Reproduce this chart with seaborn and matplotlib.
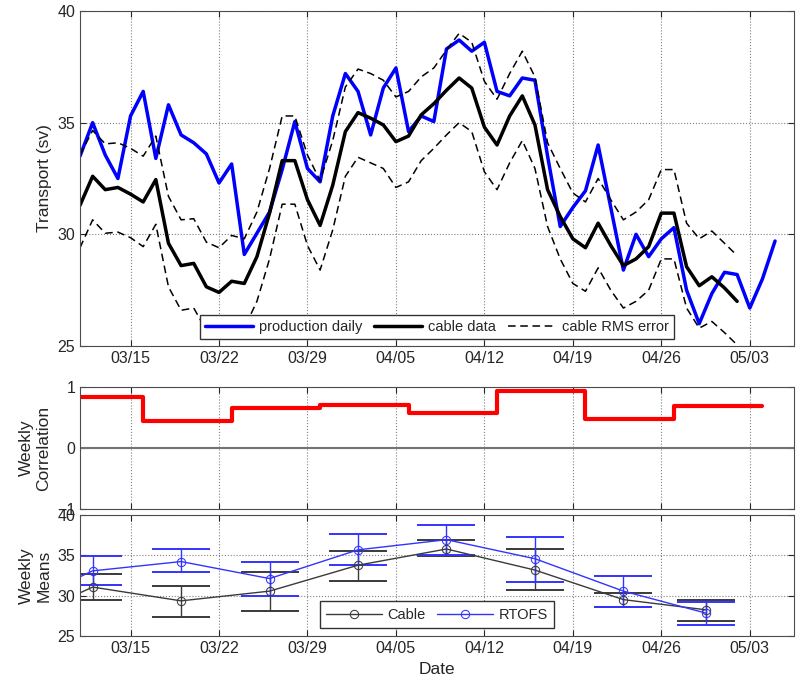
import numpy as np
import pandas as pd
import matplotlib
matplotlib.use("Agg")
import matplotlib.pyplot as plt
import matplotlib.dates as mdates
import seaborn as sns

# --- daily transport (Sv), one value per day from 03/11 ---
day0 = "2010-03-11"
production_daily = [33.5, 35.0, 33.55, 32.5, 35.3, 36.4, 33.4, 35.8, 34.45, 34.1,
                    33.6, 32.3, 33.15, 29.1, 30.05, 31.0, 32.9, 35.05, 32.95, 32.35,
                    35.3, 37.2, 36.4, 34.45, 36.55, 37.45, 34.6, 35.3, 35.05, 38.3,
                    38.7, 38.2, 38.6, 36.4, 36.2, 37.0, 36.9, 33.5, 30.35, 31.2,
                    31.95, 34.0, 31.2, 28.4, 30.0, 29.0, 29.8, 30.3, 27.5, 26.0,
                    27.35, 28.3, 28.2, 26.7, 28.0, 29.7]
cable_data = [31.3, 32.6, 32.0, 32.1, 31.8, 31.45, 32.45, 29.6, 28.6, 28.7,
              27.65, 27.4, 27.9, 27.8, 29.0, 30.95, 33.3, 33.3, 31.55, 30.4,
              32.2, 34.6, 35.45, 35.2, 34.9, 34.15, 34.4, 35.35, 35.85, 36.45,
              37.0, 36.55, 34.8, 34.0, 35.3, 36.2, 34.9, 32.0, 30.8, 29.8,
              29.4, 30.5, 29.5, 28.6, 28.9, 29.45, 30.95, 30.95, 28.55, 27.7,
              28.1, 27.6, 27.0]
rms_upper = [33.55, 34.65, 34.05, 34.1, 33.85, 33.5, 34.4, 31.7, 30.65, 30.7,
             29.65, 29.4, 29.95, 29.8, 31.0, 32.95, 35.3, 35.3, 33.55, 32.4,
             34.2, 36.6, 37.4, 37.2, 36.9, 36.15, 36.4, 37.05, 37.45, 38.25,
             39.0, 38.6, 36.85, 36.05, 37.2, 38.2, 37.05, 34.1, 32.95, 31.85,
             31.45, 32.5, 31.55, 30.65, 31.0, 31.55, 32.9, 32.9, 30.5, 29.8,
             30.15, 29.6, 29.05]
rms_lower = [29.4, 30.65, 30.05, 30.1, 29.85, 29.45, 30.45, 27.65, 26.6, 26.7,
             25.7, 25.4, 25.9, 25.8, 27.0, 28.9, 31.35, 31.35, 29.5, 28.4,
             30.2, 32.6, 33.45, 33.2, 32.95, 32.1, 32.35, 33.3, 33.85, 34.45,
             35.0, 34.6, 32.8, 32.0, 33.2, 34.2, 32.95, 30.35, 28.9, 27.8,
             27.45, 28.5, 27.5, 26.7, 27.0, 27.5, 28.9, 28.9, 26.7, 25.8,
             26.1, 25.6, 25.05]

# --- weekly correlation (step per week) ---
week_edges = ["2010-03-09", "2010-03-16", "2010-03-23", "2010-03-30", "2010-04-06",
              "2010-04-13", "2010-04-20", "2010-04-27", "2010-05-04"]
weekly_corr = [0.83, 0.44, 0.66, 0.71, 0.58, 0.94, 0.48, 0.69]

# --- weekly means with error bar ends ---
week_mid = ["2010-03-05", "2010-03-12", "2010-03-19", "2010-03-26", "2010-04-02",
            "2010-04-09", "2010-04-16", "2010-04-23", "2010-04-29 12:00"]
cable_mean = [26.1, 31.1, 29.4, 30.6, 33.8, 35.8, 33.2, 29.55, 28.3]
cable_lo = [24.3, 29.45, 27.4, 28.2, 31.9, 34.9, 30.8, 28.6, 26.95]
cable_hi = [27.9, 32.7, 31.25, 33.0, 35.6, 36.9, 35.8, 30.4, 29.55]
rtofs_mean = [28.0, 33.1, 34.25, 32.15, 35.7, 36.95, 34.6, 30.6, 27.9]
rtofs_lo = [26.2, 31.3, 32.9, 30.0, 33.8, 35.0, 31.75, 28.6, 26.45]
rtofs_hi = [29.8, 34.9, 35.8, 34.25, 37.6, 38.8, 37.3, 32.45, 29.3]

tick_dates = pd.date_range("2010-03-15", "2010-05-03", freq="7D")
xlim = (pd.Timestamp("2010-03-11"), pd.Timestamp("2010-05-06 12:00"))

sns.set_style("ticks", {"xtick.direction": "in", "ytick.direction": "in"})
plt.rcParams["font.family"] = ["Liberation Sans", "DejaVu Sans"]
plt.rcParams["axes.edgecolor"] = "0.3"

fig = plt.figure(figsize=(8, 6.83), dpi=100)
ax1 = fig.add_axes([0.1, 0.4934, 0.8925, 0.4905])
ax2 = fig.add_axes([0.1, 0.2548, 0.8925, 0.1786])
ax3 = fig.add_axes([0.1, 0.0681, 0.8925, 0.1779])

days_prod = pd.date_range(day0, periods=len(production_daily))
days_cable = pd.date_range(day0, periods=len(cable_data))

# --- 1. daily transport ---
sns.lineplot(x=days_prod, y=production_daily, ax=ax1, color="#0000ff", lw=2.5,
             label="production daily")
sns.lineplot(x=days_cable, y=cable_data, ax=ax1, color="black", lw=2.5,
             label="cable data")
sns.lineplot(x=days_cable, y=rms_upper, ax=ax1, color="black", lw=1.1,
             linestyle=(0, (5, 3)), label="cable RMS error")
sns.lineplot(x=days_cable, y=rms_lower, ax=ax1, color="black", lw=1.1,
             linestyle=(0, (5, 3)))
ax1.set_ylim(25, 40)
ax1.set_yticks([25, 30, 35, 40])
ax1.set_ylabel("Transport (sv)", fontsize=12.5)
ax1.set_xlabel("")
leg = ax1.legend(loc="lower center", bbox_to_anchor=(0.5, 0.02), ncol=3,
                 fontsize=10.5, handlelength=3.3, columnspacing=0.8,
                 handletextpad=0.4, fancybox=False, framealpha=1,
                 borderpad=0.35, borderaxespad=0)
leg.get_frame().set_edgecolor("0.2")

# --- 2. weekly correlation ---
sns.lineplot(x=pd.to_datetime(week_edges), y=weekly_corr + [weekly_corr[-1]], ax=ax2,
             color="red", lw=3, drawstyle="steps-post")
ax2.axhline(0, color="0.45", lw=1.5, zorder=1)
ax2.set_ylim(-1, 1)
ax2.set_yticks([-1, 0, 1])
ax2.set_ylabel("Weekly\nCorrelation", fontsize=12.5)
ax2.set_xlabel("")

# --- 3. weekly means ---
wk = pd.to_datetime(week_mid, format="ISO8601")
cable_col = "#3a3a3a"
rtofs_col = "#3333ff"
cm, rm = np.array(cable_mean), np.array(rtofs_mean)
ax3.errorbar(wk, cm, yerr=[cm - np.array(cable_lo), np.array(cable_hi) - cm], fmt="none",
             ecolor=cable_col, elinewidth=1, capsize=21, capthick=1.4)
ax3.errorbar(wk, rm, yerr=[rm - np.array(rtofs_lo), np.array(rtofs_hi) - rm], fmt="none",
             ecolor=rtofs_col, elinewidth=1, capsize=21, capthick=1.4)
sns.lineplot(x=wk, y=cable_mean, ax=ax3, color=cable_col, lw=1, marker="o",
             markersize=6, markerfacecolor="none", markeredgecolor=cable_col,
             label="Cable")
sns.lineplot(x=wk, y=rtofs_mean, ax=ax3, color=rtofs_col, lw=1, marker="o",
             markersize=6, markerfacecolor="none", markeredgecolor=rtofs_col,
             label="RTOFS")
ax3.set_ylim(25, 40)
ax3.set_yticks([25, 30, 35, 40])
ax3.set_ylabel("Weekly\nMeans", fontsize=12.5)
ax3.set_xlabel("Date", fontsize=12.5)
leg3 = ax3.legend(loc="lower center", bbox_to_anchor=(0.5, 0.066), ncol=2,
                  fontsize=10.5, handlelength=3.8, columnspacing=0.8,
                  handletextpad=0.4, fancybox=False, framealpha=1, numpoints=1,
                  borderpad=0.45, borderaxespad=0)
leg3.get_frame().set_edgecolor("0.2")

for ax in (ax1, ax2, ax3):
    ax.set_xlim(*xlim)
    ax.set_xticks(tick_dates)
    ax.grid(True, linestyle=":", color="0.5", lw=0.8)
    ax.tick_params(top=True, right=True, labelsize=11.5, length=4, width=0.8)
ax1.xaxis.set_major_formatter(mdates.DateFormatter("%m/%d"))
ax3.xaxis.set_major_formatter(mdates.DateFormatter("%m/%d"))
ax2.set_xticklabels([])

fig.savefig("out.png", dpi=100)
